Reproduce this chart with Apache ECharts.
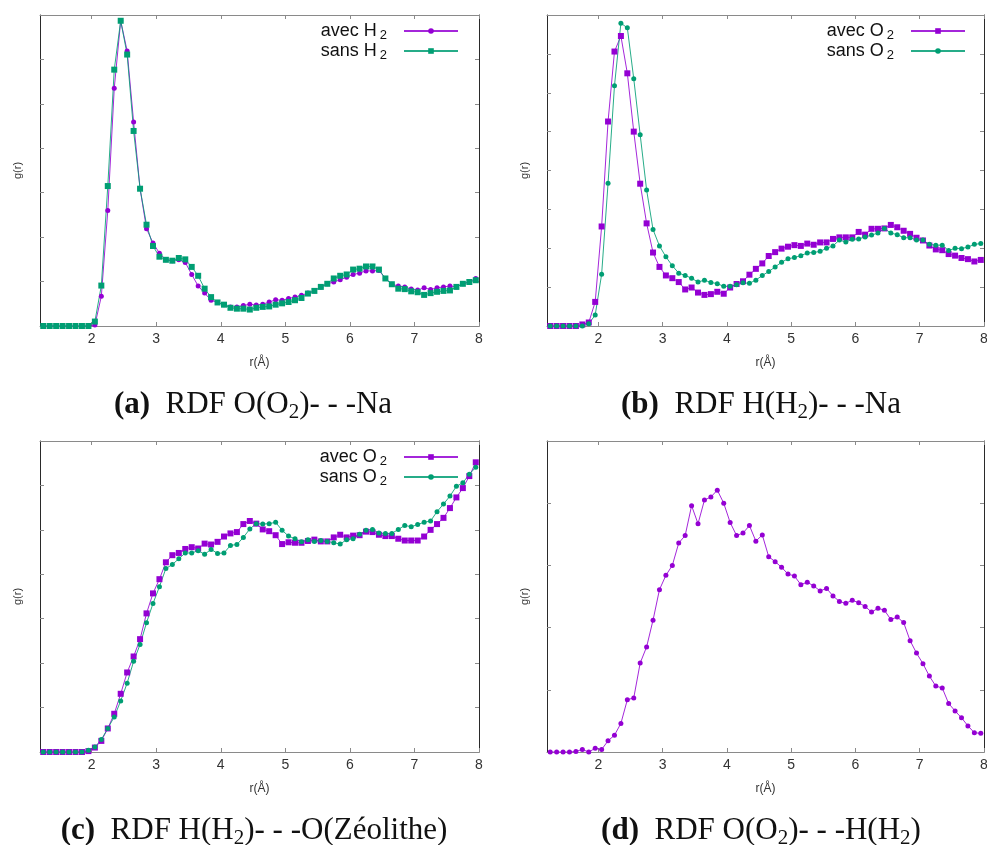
<!DOCTYPE html>
<html>
<head>
<meta charset="utf-8">
<script src="https://cdn.jsdelivr.net/npm/echarts@6/dist/echarts.min.js"></script>
<style>
html,body{margin:0;padding:0;background:#fff;}
#chart{width:987px;height:845px;}
</style>
</head>
<body>
<div id="chart"></div>
<script>
// r values (Å)
const r = [1.25,1.35,1.45,1.55,1.65,1.75,1.85,1.95,
  2.05,2.15,2.25,2.35,2.45,2.55,2.65,2.75,2.85,2.95,
  3.05,3.15,3.25,3.35,3.45,3.55,3.65,3.75,3.85,3.95,
  4.05,4.15,4.25,4.35,4.45,4.55,4.65,4.75,4.85,4.95,
  5.05,5.15,5.25,5.35,5.45,5.55,5.65,5.75,5.85,5.95,
  6.05,6.15,6.25,6.35,6.45,6.55,6.65,6.75,6.85,6.95,
  7.05,7.15,7.25,7.35,7.45,7.55,7.65,7.75,7.85,7.95];

const xTicks = [2,3,4,5,6,7,8];

// (a) RDF O(O2)---Na
const aAvecH2 = [0,0,0,0,0,0,0,0,
  0.02,0.67,2.60,5.35,6.87,6.19,4.59,3.09,2.19,1.87,
  1.64,1.49,1.47,1.49,1.43,1.16,0.90,0.74,0.58,0.53,
  0.48,0.43,0.43,0.46,0.49,0.47,0.49,0.54,0.59,0.58,
  0.62,0.65,0.69,0.74,0.79,0.88,0.95,0.99,1.04,1.10,
  1.16,1.19,1.24,1.24,1.25,1.07,0.94,0.90,0.88,0.83,
  0.81,0.86,0.82,0.86,0.88,0.90,0.88,0.95,0.99,1.07];
const aSansH2 = [0,0,0,0,0,0,0,0,
  0.10,0.91,3.15,5.77,6.87,6.11,4.39,3.09,2.28,1.80,
  1.56,1.49,1.47,1.53,1.50,1.33,1.13,0.84,0.65,0.53,
  0.48,0.41,0.39,0.39,0.37,0.41,0.43,0.44,0.48,0.51,
  0.54,0.58,0.63,0.73,0.79,0.88,0.95,1.07,1.13,1.16,
  1.27,1.29,1.34,1.34,1.27,1.07,0.94,0.84,0.83,0.78,
  0.76,0.70,0.74,0.77,0.79,0.80,0.88,0.95,0.99,1.03];

// (b) RDF H(H2)---Na
const bAvecO2 = [0,0,0,0,0,0.04,0.09,0.62,
  2.56,5.26,7.06,7.46,6.50,5.00,3.66,2.64,1.89,1.52,
  1.30,1.23,1.13,0.94,0.99,0.86,0.80,0.82,0.88,0.83,
  0.99,1.08,1.15,1.32,1.47,1.61,1.80,1.90,1.99,2.04,
  2.08,2.06,2.12,2.09,2.15,2.15,2.24,2.28,2.28,2.28,
  2.42,2.35,2.50,2.50,2.51,2.60,2.54,2.45,2.37,2.27,
  2.20,2.07,1.97,1.95,1.85,1.81,1.75,1.72,1.66,1.70];
const bSansO2 = [0,0,0,0,0,0,0.06,0.28,
  1.33,3.67,6.18,7.79,7.67,6.36,4.92,3.50,2.48,2.06,
  1.78,1.55,1.36,1.30,1.23,1.13,1.18,1.12,1.09,1.02,
  1.02,1.06,1.11,1.10,1.18,1.30,1.40,1.52,1.64,1.73,
  1.76,1.81,1.88,1.89,1.92,2.00,2.06,2.21,2.16,2.23,
  2.24,2.29,2.34,2.39,2.51,2.39,2.35,2.27,2.27,2.21,
  2.21,2.10,2.08,2.08,1.94,2.00,1.99,2.03,2.10,2.12];

// (c) RDF H(H2)---O(Zéolithe)
const cAvecO2 = [0,0,0,0,0,0,0,0.02,
  0.10,0.25,0.53,0.86,1.31,1.79,2.15,2.54,3.12,3.57,
  3.89,4.27,4.43,4.48,4.57,4.61,4.58,4.69,4.67,4.73,
  4.85,4.92,4.95,5.13,5.20,5.14,5.01,4.97,4.88,4.68,
  4.72,4.71,4.71,4.75,4.78,4.74,4.74,4.83,4.89,4.83,
  4.87,4.88,4.96,4.95,4.89,4.86,4.86,4.80,4.76,4.76,
  4.76,4.85,5.00,5.13,5.27,5.49,5.73,5.94,6.21,6.52];
const cSansO2 = [0,0,0,0,0,0,0,0.04,
  0.11,0.28,0.53,0.79,1.15,1.55,2.04,2.42,2.91,3.34,
  3.72,4.13,4.22,4.35,4.48,4.48,4.53,4.45,4.56,4.47,
  4.48,4.65,4.67,4.83,5.02,5.14,5.13,5.14,5.17,4.99,
  4.86,4.80,4.73,4.78,4.74,4.76,4.74,4.71,4.68,4.78,
  4.80,4.90,4.99,5.01,4.93,4.92,4.92,5.01,5.10,5.07,
  5.12,5.17,5.20,5.41,5.58,5.76,5.98,6.06,6.25,6.41];

// (d) RDF O(O2)---H(H2)
const dOH = [0,0,0,0,0.01,0.04,0,0.06,
  0.04,0.18,0.27,0.46,0.84,0.87,1.43,1.69,2.12,2.61,
  2.84,3.00,3.36,3.48,3.96,3.67,4.05,4.10,4.21,4.00,
  3.69,3.48,3.52,3.64,3.39,3.49,3.14,3.06,2.97,2.86,
  2.83,2.69,2.73,2.67,2.59,2.63,2.51,2.42,2.39,2.44,
  2.40,2.34,2.25,2.31,2.28,2.13,2.17,2.08,1.79,1.59,
  1.42,1.22,1.06,1.03,0.78,0.66,0.55,0.42,0.31,0.30];

const yMax = [7, 8, 7, 5];
const captions = [
  ['(a)', 'RDF O(O', '2', ')- - -Na'],
  ['(b)', 'RDF H(H', '2', ')- - -Na'],
  ['(c)', 'RDF H(H', '2', ')- - -O(Zéolithe)'],
  ['(d)', 'RDF O(O', '2', ')- - -H(H', '2', ')']
];

const PURPLE = '#9400d3';
const GREEN = '#009e73';
const SANS = 'Liberation Sans, Arial, sans-serif';
const SERIF = 'Liberation Serif, Times New Roman, serif';

const grids = [
  {left: 40, top: 15, width: 439, height: 311},
  {left: 547, top: 15, width: 437, height: 311},
  {left: 40, top: 441, width: 439, height: 311},
  {left: 547, top: 441, width: 437, height: 311}
];

const xAxes = [], yAxes = [];
grids.forEach((g, i) => {
  const common = {type: 'value', gridIndex: i, min: 1.2, max: 8, splitLine: {show: false}};
  xAxes.push(Object.assign({}, common, {
    position: 'bottom',
    axisLine: {onZero: false, lineStyle: {color: '#8a8a8a', width: 1}},
    axisTick: {inside: true, length: 4, customValues: xTicks, lineStyle: {color: '#8a8a8a'}},
    axisLabel: {customValues: xTicks, margin: 6, fontSize: 14, color: '#333', fontFamily: SANS},
    name: 'r(Å)', nameLocation: 'middle', nameGap: 31,
    nameTextStyle: {fontSize: 12, color: '#333', fontFamily: SANS}
  }));
  xAxes.push(Object.assign({}, common, {
    position: 'top',
    axisLine: {onZero: false, lineStyle: {color: '#8a8a8a', width: 1}},
    axisTick: {inside: true, length: 4, customValues: xTicks, lineStyle: {color: '#8a8a8a'}},
    axisLabel: {show: false}
  }));
  const ycommon = {type: 'value', gridIndex: i, min: 0, max: yMax[i], interval: 1, splitLine: {show: false}};
  yAxes.push(Object.assign({}, ycommon, {
    position: 'left',
    axisLine: {show: true, onZero: false, lineStyle: {color: '#2a2a2a', width: 1}},
    axisTick: {show: true, inside: true, length: 4, lineStyle: {color: '#8a8a8a'}},
    axisLabel: {show: false},
    name: 'g(r)', nameLocation: 'middle', nameGap: 17, nameRotate: 90,
    nameTextStyle: {fontSize: 11, color: '#333', fontFamily: SANS}
  }));
  yAxes.push(Object.assign({}, ycommon, {
    position: 'right',
    axisLine: {show: true, onZero: false, lineStyle: {color: '#2a2a2a', width: 1}},
    axisTick: {show: true, inside: true, length: 4, lineStyle: {color: '#8a8a8a'}},
    axisLabel: {show: false}
  }));
});

function mk(name, vals, gi, color, symbol, size) {
  return {
    name: name, type: 'line', xAxisIndex: gi * 2, yAxisIndex: gi * 2,
    data: r.map((x, k) => [x, vals[k]]),
    symbol: symbol, symbolSize: size, showSymbol: true,
    itemStyle: {color: color},
    lineStyle: {color: color, width: 1, opacity: 0.85},
    emphasis: {disabled: true}, z: 2
  };
}

const series = [
  mk('avec H2', aAvecH2, 0, PURPLE, 'circle', 5),
  mk('sans H2', aSansH2, 0, GREEN, 'rect', 6),
  mk('avec O2', bAvecO2, 1, PURPLE, 'rect', 6),
  mk('sans O2', bSansO2, 1, GREEN, 'circle', 5),
  mk('avec O2', cAvecO2, 2, PURPLE, 'rect', 6),
  mk('sans O2', cSansO2, 2, GREEN, 'circle', 5),
  mk('O(O2)-H(H2)', dOH, 3, PURPLE, 'circle', 5)
];

const legendRich = {
  t: {fontSize: 18, fontFamily: SANS, color: '#111', lineHeight: 22},
  s: {fontSize: 13, fontFamily: SANS, color: '#111', lineHeight: 14, verticalAlign: 'bottom', padding: [0, 12, 0, 3]}
};
function legendFmt(name) {
  return '{t|' + name.slice(0, -1) + '}{s|' + name.slice(-1) + '}';
}
function mkLegend(names, top, right) {
  return {
    data: names, orient: 'vertical', align: 'right', top: top, right: right,
    padding: 0, itemGap: 0, itemWidth: 54, itemHeight: 7,
    selectedMode: false, formatter: legendFmt,
    textStyle: {rich: legendRich}
  };
}

const capRich = {
  b: {fontSize: 31, fontFamily: SERIF, fontWeight: 'bold', color: '#111', lineHeight: 36},
  n: {fontSize: 31, fontFamily: SERIF, fontWeight: 'normal', color: '#111', lineHeight: 36},
  s: {fontSize: 21, fontFamily: SERIF, fontWeight: 'normal', color: '#111', lineHeight: 24, verticalAlign: 'bottom'}
};
function capText(parts) {
  let t = '{b|' + parts[0] + '}{n|  ' + parts[1] + '}';
  for (let k = 2; k < parts.length; k++) {
    t += (k % 2 === 0) ? '{s|' + parts[k] + '}' : '{n|' + parts[k] + '}';
  }
  return t;
}
const capPos = [[253, 387], [761, 387], [254, 813], [761, 813]];
const titles = captions.map((c, i) => ({
  text: capText(c), left: capPos[i][0], top: capPos[i][1], textAlign: 'center', padding: 0,
  textStyle: {rich: capRich, fontWeight: 'normal'}
}));

const chart = echarts.init(document.getElementById('chart'), null, {renderer: 'canvas'});
chart.setOption({
  backgroundColor: '#fff',
  animation: false,
  title: titles,
  grid: grids.map(g => Object.assign({containLabel: false, outerBoundsMode: 'none'}, g)),
  xAxis: xAxes,
  yAxis: yAxes,
  legend: [
    mkLegend(['avec H2', 'sans H2'], 22, 528),
    mkLegend(['avec O2', 'sans O2'], 22, 21),
    mkLegend(['avec O2', 'sans O2'], 448, 528)
  ],
  series: series
});
</script>
</body>
</html>
